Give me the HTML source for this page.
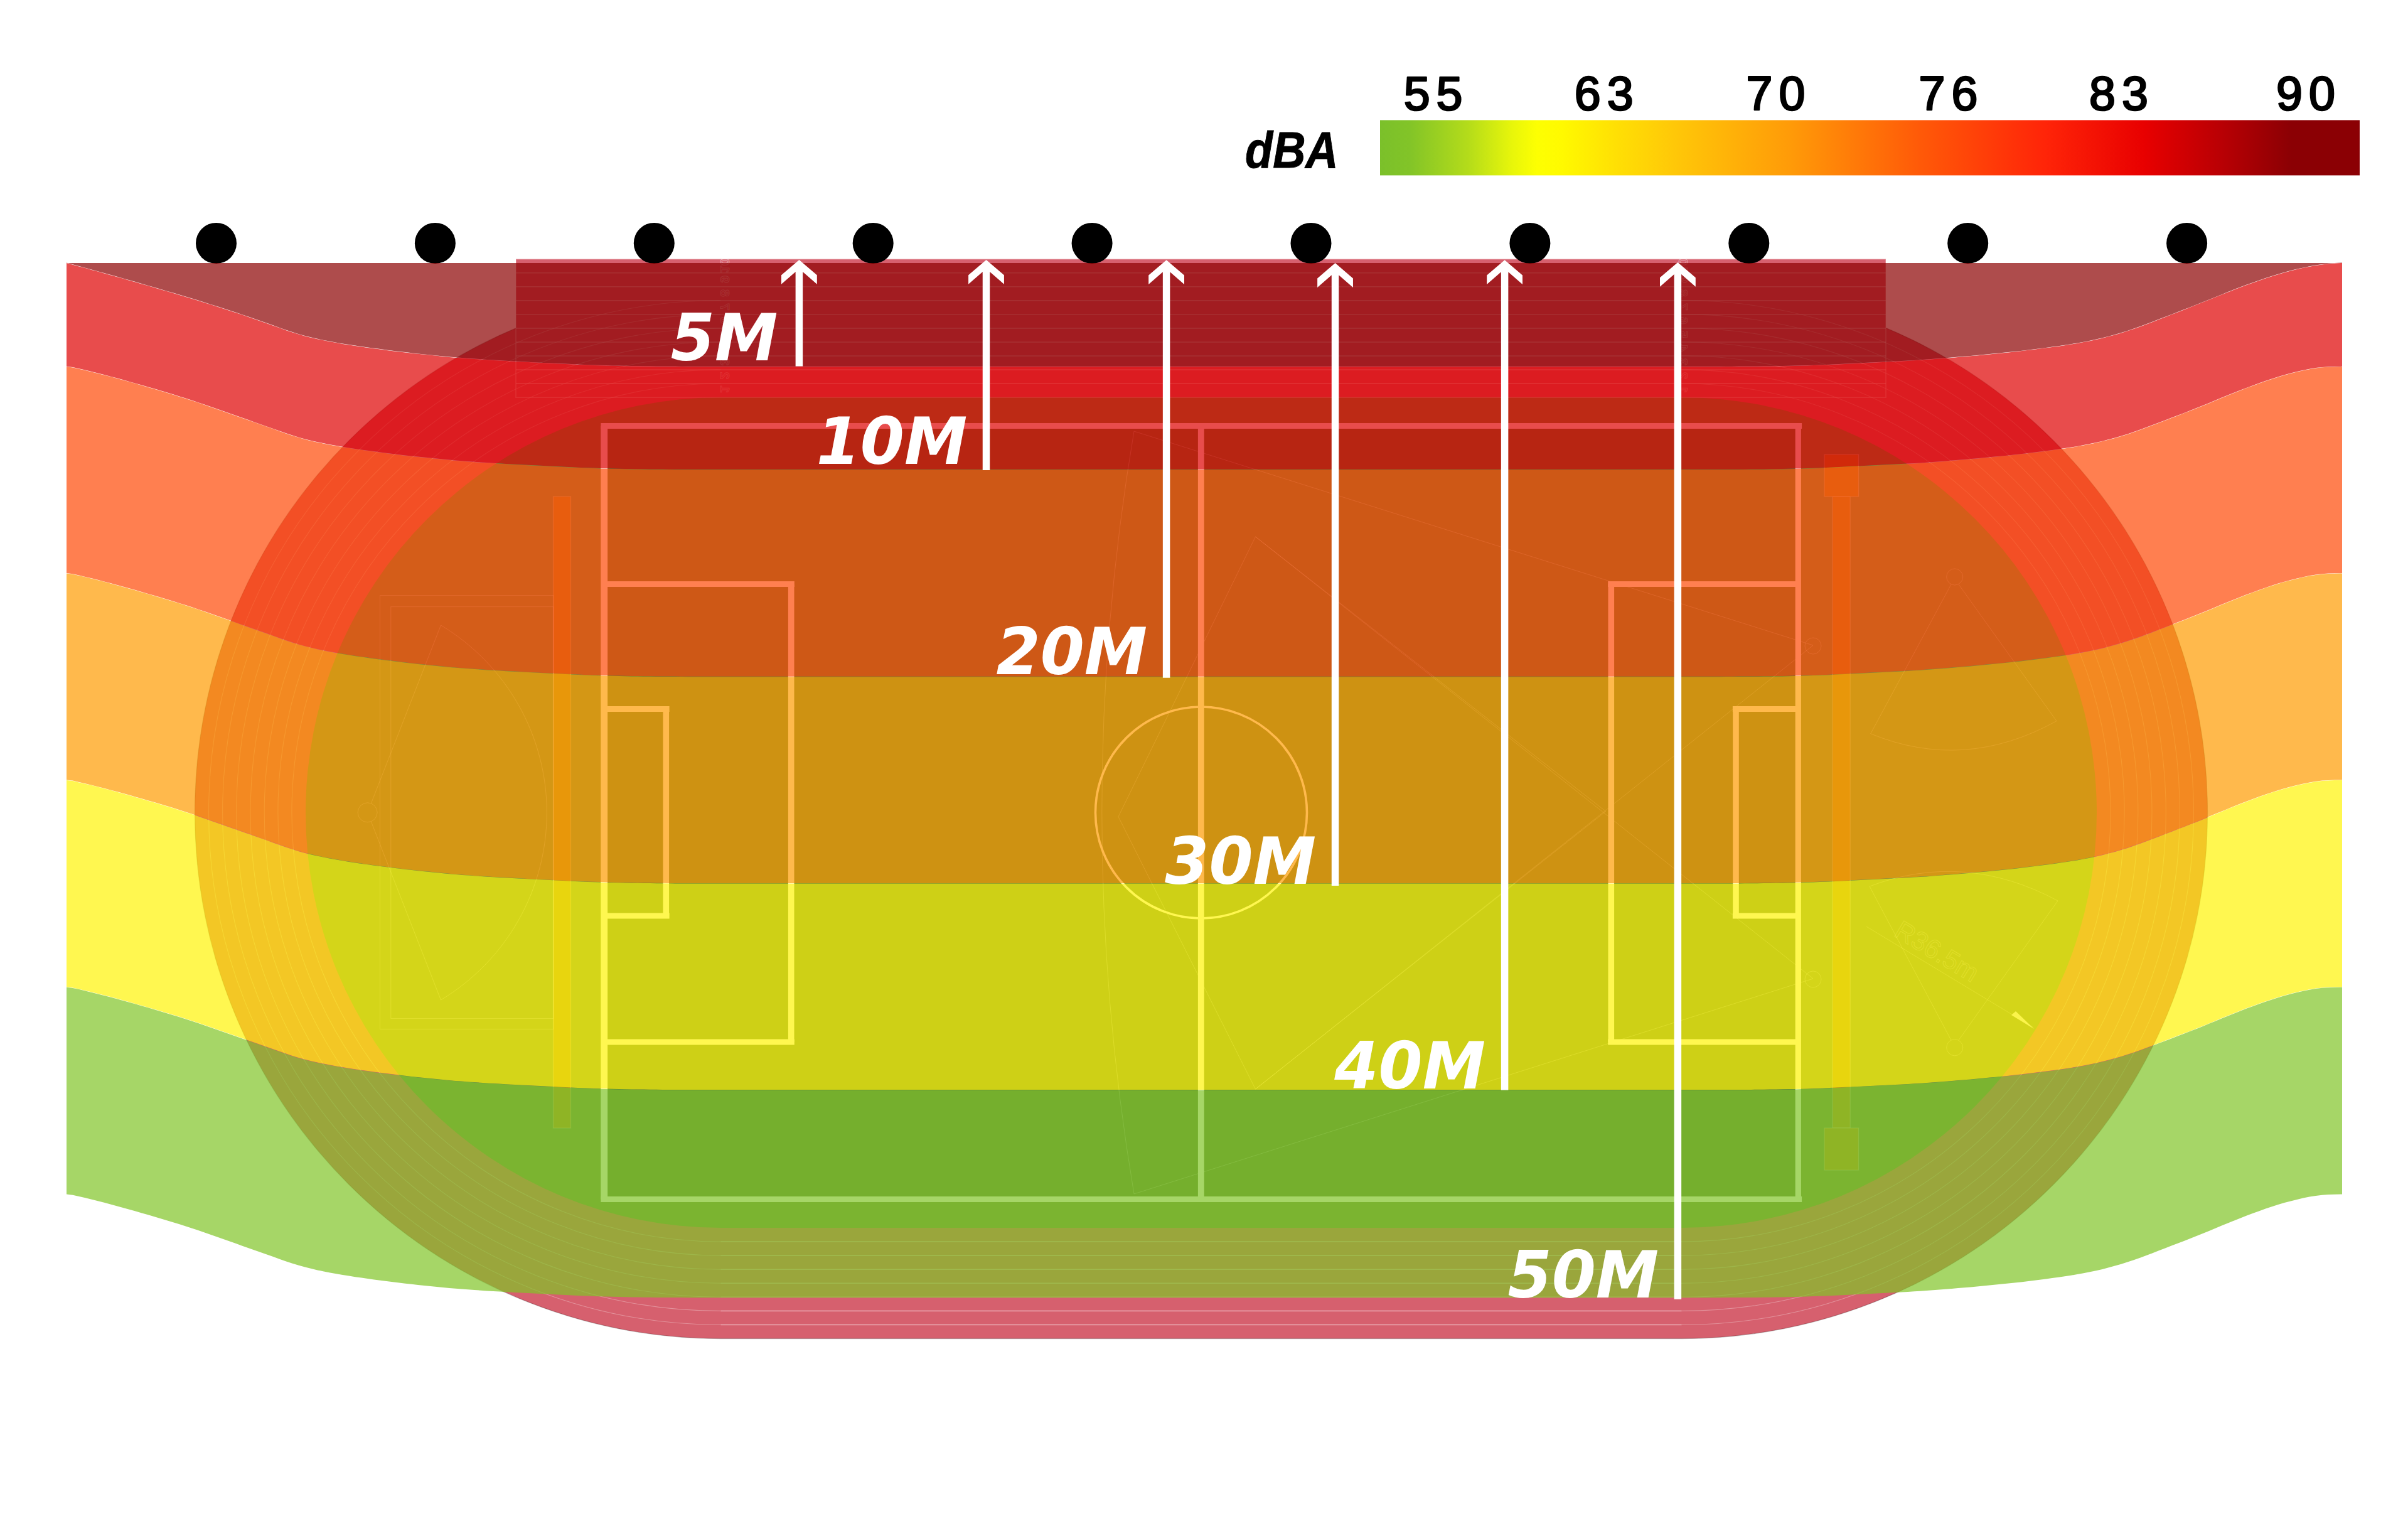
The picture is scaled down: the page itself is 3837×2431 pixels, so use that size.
<!DOCTYPE html>
<html><head><meta charset="utf-8"><title>dBA</title>
<style>html,body{margin:0;padding:0;background:#fff}svg{display:block}</style></head>
<body>
<svg width="3837" height="2431" viewBox="0 0 3837 2431">
<rect width="3837" height="2431" fill="#fff"/>
<g id="base">
<path d="M1148.5,456.5 L2679.5,456.5 A838.0,838.0 0 0 1 2679.5,2132.5 L1148.5,2132.5 A838.0,838.0 0 0 1 1148.5,456.5Z" fill="#d6606e"/>
<path d="M1148.5,456.5 L2679.5,456.5 A838.0,838.0 0 0 1 2679.5,2132.5 L1148.5,2132.5 A838.0,838.0 0 0 1 1148.5,456.5Z" fill="none" stroke="#000" stroke-opacity=".22" stroke-width="1.3"/>
<rect x="822" y="412.6" width="2183" height="220.6" fill="#d6606e"/>
<path d="M1148.5,633.0 L2679.5,633.0 A661.5,661.5 0 0 1 2679.5,1956.0 L1148.5,1956.0 A661.5,661.5 0 0 1 1148.5,633.0Z" fill="#708e48"/>
<g fill="none" stroke="#fff" stroke-opacity=".3" stroke-width="1.1">
<path d="M2679.5,610.94 A683.56,683.56 0 0 1 2679.5,1978.06 M1148.5,1978.06 A683.56,683.56 0 0 1 1148.5,610.94"/>
<path d="M2679.5,588.88 A705.62,705.62 0 0 1 2679.5,2000.12 M1148.5,2000.12 A705.62,705.62 0 0 1 1148.5,588.88"/>
<path d="M2679.5,566.81 A727.69,727.69 0 0 1 2679.5,2022.19 M1148.5,2022.19 A727.69,727.69 0 0 1 1148.5,566.81"/>
<path d="M2679.5,544.75 A749.75,749.75 0 0 1 2679.5,2044.25 M1148.5,2044.25 A749.75,749.75 0 0 1 1148.5,544.75"/>
<path d="M2679.5,522.69 A771.81,771.81 0 0 1 2679.5,2066.31 M1148.5,2066.31 A771.81,771.81 0 0 1 1148.5,522.69"/>
<path d="M2679.5,500.62 A793.88,793.88 0 0 1 2679.5,2088.38 M1148.5,2088.38 A793.88,793.88 0 0 1 1148.5,500.62"/>
<path d="M2679.5,478.56 A815.94,815.94 0 0 1 2679.5,2110.44 M1148.5,2110.44 A815.94,815.94 0 0 1 1148.5,478.56"/>
</g>
<g fill="none" stroke="#fff" stroke-opacity=".4" stroke-width="1.6">
<path d="M1148.5,1978.1H2679.5"/>
<path d="M1148.5,2000.1H2679.5"/>
<path d="M1148.5,2022.2H2679.5"/>
<path d="M1148.5,2044.2H2679.5"/>
<path d="M1148.5,2066.3H2679.5"/>
<path d="M1148.5,2088.4H2679.5"/>
<path d="M1148.5,2110.4H2679.5"/>
<path d="M822,434.7H3005"/>
<path d="M822,456.7H3005"/>
<path d="M822,478.8H3005"/>
<path d="M822,500.8H3005"/>
<path d="M822,522.9H3005"/>
<path d="M822,545.0H3005"/>
<path d="M822,567.0H3005"/>
<path d="M822,589.1H3005"/>
<path d="M822,611.1H3005"/>
<rect x="822" y="412.6" width="2183" height="220.6" stroke-opacity=".35"/>
</g>
<g font-family="'Liberation Sans',sans-serif" font-weight="bold" font-size="21" fill="none" stroke="#fff" stroke-opacity=".42" stroke-width="1" text-anchor="middle">
<text transform="matrix(0 -1 -1 0 1147.5 620.2)">1</text>
<text transform="matrix(0 -1 -1 0 1147.5 598.3)">2</text>
<text transform="matrix(0 -1 -1 0 1147.5 576.4)">3</text>
<text transform="matrix(0 -1 -1 0 1147.5 554.5)">4</text>
<text transform="matrix(0 -1 -1 0 1147.5 532.6)">5</text>
<text transform="matrix(0 -1 -1 0 1147.5 510.7)">6</text>
<text transform="matrix(0 -1 -1 0 1147.5 488.8)">7</text>
<text transform="matrix(0 -1 -1 0 1147.5 466.9)">8</text>
<text transform="matrix(0 -1 -1 0 1147.5 445.0)">9</text>
<text transform="matrix(0 -1 -1 0 1147.5 423.1)">10</text>
<text transform="matrix(0 -1 -1 0 2674.5 620.2)">1</text>
<text transform="matrix(0 -1 -1 0 2674.5 598.3)">2</text>
<text transform="matrix(0 -1 -1 0 2674.5 576.4)">3</text>
<text transform="matrix(0 -1 -1 0 2674.5 554.5)">4</text>
<text transform="matrix(0 -1 -1 0 2674.5 532.6)">5</text>
<text transform="matrix(0 -1 -1 0 2674.5 510.7)">6</text>
<text transform="matrix(0 -1 -1 0 2674.5 488.8)">7</text>
<text transform="matrix(0 -1 -1 0 2674.5 466.9)">8</text>
<text transform="matrix(0 -1 -1 0 2674.5 445.0)">9</text>
<text transform="matrix(0 -1 -1 0 2674.5 423.1)">10</text>
</g>
<rect x="962.5" y="678.5" width="1903.5" height="1232" fill="#5a7d3e"/>
<g fill="none" stroke="#fff" stroke-width="9">
<path d="M957.4,678.5H2871.1M957.4,1910.5H2871.1M962.5,930.5H1265.8M962.5,1660H1265.8M962.5,1129.5H1066.6M962.5,1459H1066.6M2866,930.5H2562.2M2866,1660H2562.2M2866,1129.5H2760.9M2866,1459H2760.9"/>
</g>
<g fill="none" stroke="#fff">
<path stroke-width="10.9" d="M962.7,678.5V1910.5"/>
<path stroke-width="9.2" d="M2865.3,678.5V1910.5"/>
<path stroke-width="9.8" d="M1913.8,678.5V1910.5"/>
<path stroke-width="9.6" d="M1260.7,930.5V1660M1061.3,1129.5V1459M2567.3,930.5V1660M2766,1129.5V1459"/>
</g>
<circle cx="1914" cy="1294.5" r="168.5" fill="none" stroke="#fff" stroke-width="3.6"/>
<g fill="#b38c22" fill-opacity="1" stroke="#fff" stroke-opacity=".3" stroke-width="1.2">
<rect x="881.5" y="791" width="28" height="1006"/>
<rect x="2920.2" y="791" width="28" height="1006"/>
<rect x="2907" y="724" width="54.5" height="67"/>
<rect x="2907" y="1797" width="54.5" height="67"/>
</g>
<g fill="none" stroke="#fff" stroke-opacity=".3" stroke-width="1">
<rect x="605.5" y="948.6" width="276.5" height="690.8"/>
<rect x="622.8" y="966.6" width="259" height="655.8"/>
<circle cx="585.6" cy="1294.3" r="15.5"/>
<path d="M591.3,1279.9L702.5,996A348.3,348.3 0 0 1 702.5,1593L591.3,1308.7"/>
<circle cx="3114.7" cy="919" r="13"/><path d="M3109,931L2980.7,1168.8Q3130,1230 3277,1148.6L3121,931"/>
<circle cx="3114.7" cy="1668.8" r="13"/><path d="M3109,1657L2979,1412Q3130,1355 3279,1435L3121,1657"/>
<path d="M2974,1476L3240,1636.7"/>
<circle cx="2889" cy="1029" r="13"/><circle cx="2889" cy="1560" r="13"/>
<path d="M1807,687Q1704.6,1293 1807,1902M1807,687L2889,1028M1807,1902L2889,1559"/>
<path d="M1782,1301L2000.5,855L2558.7,1292.6L2000.5,1735ZM2889,1028L2000.5,1735M2889,1559L2000.5,855"/>
</g>
<text x="3016" y="1490" transform="rotate(31 3016 1490)" font-family="'Liberation Sans',sans-serif" font-size="42" fill="none" stroke="#fff" stroke-opacity=".3" stroke-width="1">R36.5m</text>
<path d="M3205,1617L3241,1639L3212,1611Z" fill="#fff" fill-opacity=".9"/>
</g>
<circle cx="344.5" cy="387.4" r="32.5" fill="#000"/>
<circle cx="693.4" cy="387.4" r="32.5" fill="#000"/>
<circle cx="1042.3" cy="387.4" r="32.5" fill="#000"/>
<circle cx="1391.2" cy="387.4" r="32.5" fill="#000"/>
<circle cx="1740.1" cy="387.4" r="32.5" fill="#000"/>
<circle cx="2089.0" cy="387.4" r="32.5" fill="#000"/>
<circle cx="2437.9" cy="387.4" r="32.5" fill="#000"/>
<circle cx="2786.8" cy="387.4" r="32.5" fill="#000"/>
<circle cx="3135.7" cy="387.4" r="32.5" fill="#000"/>
<circle cx="3484.6" cy="387.4" r="32.5" fill="#000"/>
<g id="bands" fill-opacity="0.7">
<path d="M106.0,419.0 L116.0,419.0 L126.0,419.0 L136.0,419.0 L146.0,419.0 L156.0,419.0 L166.0,419.0 L176.0,419.0 L186.0,419.0 L196.0,419.0 L206.0,419.0 L216.0,419.0 L226.0,419.0 L236.0,419.0 L246.0,419.0 L256.0,419.0 L266.0,419.0 L276.0,419.0 L286.0,419.0 L296.0,419.0 L306.0,419.0 L316.0,419.0 L326.0,419.0 L336.0,419.0 L346.0,419.0 L356.0,419.0 L366.0,419.0 L376.0,419.0 L386.0,419.0 L396.0,419.0 L406.0,419.0 L416.0,419.0 L426.0,419.0 L436.0,419.0 L446.0,419.0 L456.0,419.0 L466.0,419.0 L476.0,419.0 L486.0,419.0 L496.0,419.0 L506.0,419.0 L516.0,419.0 L526.0,419.0 L536.0,419.0 L546.0,419.0 L556.0,419.0 L566.0,419.0 L576.0,419.0 L586.0,419.0 L596.0,419.0 L606.0,419.0 L616.0,419.0 L626.0,419.0 L636.0,419.0 L646.0,419.0 L656.0,419.0 L666.0,419.0 L676.0,419.0 L686.0,419.0 L696.0,419.0 L706.0,419.0 L716.0,419.0 L726.0,419.0 L736.0,419.0 L746.0,419.0 L756.0,419.0 L766.0,419.0 L776.0,419.0 L786.0,419.0 L796.0,419.0 L806.0,419.0 L816.0,419.0 L826.0,419.0 L836.0,419.0 L846.0,419.0 L856.0,419.0 L866.0,419.0 L876.0,419.0 L886.0,419.0 L896.0,419.0 L906.0,419.0 L916.0,419.0 L926.0,419.0 L936.0,419.0 L946.0,419.0 L956.0,419.0 L966.0,419.0 L976.0,419.0 L986.0,419.0 L996.0,419.0 L1006.0,419.0 L1016.0,419.0 L1026.0,419.0 L1036.0,419.0 L1046.0,419.0 L1056.0,419.0 L1066.0,419.0 L1076.0,419.0 L1086.0,419.0 L1096.0,419.0 L1106.0,419.0 L1116.0,419.0 L1126.0,419.0 L1136.0,419.0 L1146.0,419.0 L1156.0,419.0 L1166.0,419.0 L1176.0,419.0 L1186.0,419.0 L1196.0,419.0 L1206.0,419.0 L1216.0,419.0 L1226.0,419.0 L1236.0,419.0 L1246.0,419.0 L1256.0,419.0 L1266.0,419.0 L1276.0,419.0 L1286.0,419.0 L1296.0,419.0 L1306.0,419.0 L1316.0,419.0 L1326.0,419.0 L1336.0,419.0 L1346.0,419.0 L1356.0,419.0 L1366.0,419.0 L1376.0,419.0 L1386.0,419.0 L1396.0,419.0 L1406.0,419.0 L1416.0,419.0 L1426.0,419.0 L1436.0,419.0 L1446.0,419.0 L1456.0,419.0 L1466.0,419.0 L1476.0,419.0 L1486.0,419.0 L1496.0,419.0 L1500.0,419.0 L2600.0,419.0 L2610.0,419.0 L2620.0,419.0 L2630.0,419.0 L2640.0,419.0 L2650.0,419.0 L2660.0,419.0 L2670.0,419.0 L2680.0,419.0 L2690.0,419.0 L2700.0,419.0 L2710.0,419.0 L2720.0,419.0 L2730.0,419.0 L2740.0,419.0 L2750.0,419.0 L2760.0,419.0 L2770.0,419.0 L2780.0,419.0 L2790.0,419.0 L2800.0,419.0 L2810.0,419.0 L2820.0,419.0 L2830.0,419.0 L2840.0,419.0 L2850.0,419.0 L2860.0,419.0 L2870.0,419.0 L2880.0,419.0 L2890.0,419.0 L2900.0,419.0 L2910.0,419.0 L2920.0,419.0 L2930.0,419.0 L2940.0,419.0 L2950.0,419.0 L2960.0,419.0 L2970.0,419.0 L2980.0,419.0 L2990.0,419.0 L3000.0,419.0 L3010.0,419.0 L3020.0,419.0 L3030.0,419.0 L3040.0,419.0 L3050.0,419.0 L3060.0,419.0 L3070.0,419.0 L3080.0,419.0 L3090.0,419.0 L3100.0,419.0 L3110.0,419.0 L3120.0,419.0 L3130.0,419.0 L3140.0,419.0 L3150.0,419.0 L3160.0,419.0 L3170.0,419.0 L3180.0,419.0 L3190.0,419.0 L3200.0,419.0 L3210.0,419.0 L3220.0,419.0 L3230.0,419.0 L3240.0,419.0 L3250.0,419.0 L3260.0,419.0 L3270.0,419.0 L3280.0,419.0 L3290.0,419.0 L3300.0,419.0 L3310.0,419.0 L3320.0,419.0 L3330.0,419.0 L3340.0,419.0 L3350.0,419.0 L3360.0,419.0 L3370.0,419.0 L3380.0,419.0 L3390.0,419.0 L3400.0,419.0 L3410.0,419.0 L3420.0,419.0 L3430.0,419.0 L3440.0,419.0 L3450.0,419.0 L3460.0,419.0 L3470.0,419.0 L3480.0,419.0 L3490.0,419.0 L3500.0,419.0 L3510.0,419.0 L3520.0,419.0 L3530.0,419.0 L3540.0,419.0 L3550.0,419.0 L3560.0,419.0 L3570.0,419.0 L3580.0,419.0 L3590.0,419.0 L3600.0,419.0 L3610.0,419.0 L3620.0,419.0 L3630.0,419.0 L3640.0,419.0 L3650.0,419.0 L3660.0,419.0 L3670.0,419.0 L3680.0,419.0 L3690.0,419.0 L3700.0,419.0 L3710.0,419.0 L3720.0,419.0 L3730.0,419.0 L3732.0,419.0 L3732.0,418.6 L3730.0,418.6 L3720.0,418.9 L3710.0,419.8 L3700.0,421.0 L3690.0,422.5 L3680.0,424.3 L3670.0,426.4 L3660.0,428.6 L3650.0,431.1 L3640.0,433.8 L3630.0,436.7 L3620.0,439.8 L3610.0,443.1 L3600.0,446.4 L3590.0,449.9 L3580.0,453.5 L3570.0,457.2 L3560.0,461.1 L3550.0,465.1 L3540.0,469.2 L3530.0,473.2 L3520.0,477.2 L3510.0,481.2 L3500.0,485.2 L3490.0,489.2 L3480.0,493.1 L3470.0,497.0 L3460.0,500.9 L3450.0,504.8 L3440.0,508.6 L3430.0,512.4 L3420.0,516.3 L3410.0,520.0 L3400.0,523.6 L3390.0,526.9 L3380.0,530.0 L3370.0,532.9 L3360.0,535.7 L3350.0,538.2 L3340.0,540.6 L3330.0,542.7 L3320.0,544.7 L3310.0,546.5 L3300.0,548.2 L3290.0,549.8 L3280.0,551.2 L3270.0,552.6 L3260.0,553.9 L3250.0,555.2 L3240.0,556.5 L3230.0,557.7 L3220.0,558.9 L3210.0,560.0 L3200.0,561.1 L3190.0,562.1 L3180.0,563.1 L3170.0,564.1 L3160.0,565.0 L3150.0,566.0 L3140.0,566.9 L3130.0,567.7 L3120.0,568.6 L3110.0,569.4 L3100.0,570.2 L3090.0,571.0 L3080.0,571.8 L3070.0,572.6 L3060.0,573.2 L3050.0,573.9 L3040.0,574.4 L3030.0,574.9 L3020.0,575.4 L3010.0,575.9 L3000.0,576.4 L2990.0,576.9 L2980.0,577.4 L2970.0,577.9 L2960.0,578.4 L2950.0,578.9 L2940.0,579.4 L2930.0,579.9 L2920.0,580.4 L2910.0,580.9 L2900.0,581.3 L2890.0,581.7 L2880.0,582.0 L2870.0,582.3 L2860.0,582.5 L2850.0,582.7 L2840.0,582.9 L2830.0,583.1 L2820.0,583.2 L2810.0,583.3 L2800.0,583.4 L2790.0,583.5 L2780.0,583.6 L2770.0,583.6 L2760.0,583.7 L2750.0,583.7 L2740.0,583.7 L2730.0,583.7 L2720.0,583.7 L2710.0,583.7 L2700.0,583.7 L2690.0,583.7 L2680.0,583.7 L2670.0,583.8 L2660.0,583.8 L2650.0,583.8 L2640.0,583.8 L2630.0,583.8 L2620.0,583.8 L2610.0,583.8 L2600.0,583.8 L1500.0,583.8 L1496.0,583.8 L1486.0,583.8 L1476.0,583.8 L1466.0,583.8 L1456.0,583.8 L1446.0,583.8 L1436.0,583.8 L1426.0,583.8 L1416.0,583.8 L1406.0,583.8 L1396.0,583.8 L1386.0,583.8 L1376.0,583.8 L1366.0,583.8 L1356.0,583.8 L1346.0,583.8 L1336.0,583.8 L1326.0,583.8 L1316.0,583.8 L1306.0,583.8 L1296.0,583.8 L1286.0,583.8 L1276.0,583.8 L1266.0,583.8 L1256.0,583.8 L1246.0,583.8 L1236.0,583.8 L1226.0,583.8 L1216.0,583.8 L1206.0,583.8 L1196.0,583.8 L1186.0,583.8 L1176.0,583.8 L1166.0,583.8 L1156.0,583.7 L1146.0,583.7 L1136.0,583.7 L1126.0,583.7 L1116.0,583.7 L1106.0,583.7 L1096.0,583.7 L1086.0,583.7 L1076.0,583.6 L1066.0,583.6 L1056.0,583.5 L1046.0,583.4 L1036.0,583.3 L1026.0,583.2 L1016.0,583.1 L1006.0,582.9 L996.0,582.8 L986.0,582.6 L976.0,582.4 L966.0,582.1 L956.0,581.8 L946.0,581.5 L936.0,581.2 L926.0,580.7 L916.0,580.3 L906.0,579.8 L896.0,579.3 L886.0,578.8 L876.0,578.3 L866.0,577.9 L856.0,577.4 L846.0,576.9 L836.0,576.3 L826.0,575.8 L816.0,575.3 L806.0,574.7 L796.0,574.1 L786.0,573.5 L776.0,572.9 L766.0,572.2 L756.0,571.5 L746.0,570.8 L736.0,570.1 L726.0,569.3 L716.0,568.4 L706.0,567.4 L696.0,566.4 L686.0,565.4 L676.0,564.4 L666.0,563.4 L656.0,562.3 L646.0,561.1 L636.0,560.0 L626.0,558.7 L616.0,557.4 L606.0,556.1 L596.0,554.8 L586.0,553.4 L576.0,552.0 L566.0,550.6 L556.0,549.0 L546.0,547.4 L536.0,545.7 L526.0,543.8 L516.0,541.9 L506.0,539.8 L496.0,537.5 L486.0,535.0 L476.0,532.2 L466.0,529.1 L456.0,525.8 L446.0,522.2 L436.0,518.6 L426.0,515.1 L416.0,511.6 L406.0,508.1 L396.0,504.6 L386.0,501.2 L376.0,497.8 L366.0,494.5 L356.0,491.3 L346.0,488.0 L336.0,484.9 L326.0,481.7 L316.0,478.6 L306.0,475.6 L296.0,472.6 L286.0,469.6 L276.0,466.6 L266.0,463.7 L256.0,460.7 L246.0,457.8 L236.0,454.9 L226.0,452.0 L216.0,449.1 L206.0,446.2 L196.0,443.4 L186.0,440.6 L176.0,437.8 L166.0,435.0 L156.0,432.2 L146.0,429.4 L136.0,426.7 L126.0,424.0 L116.0,421.2 L106.0,418.6Z" fill="#8b0000"/>
<path d="M106.0,419.0 L116.0,421.7 L126.0,424.4 L136.0,427.1 L146.0,429.9 L156.0,432.6 L166.0,435.4 L176.0,438.2 L186.0,441.0 L196.0,443.8 L206.0,446.7 L216.0,449.5 L226.0,452.4 L236.0,455.3 L246.0,458.2 L256.0,461.2 L266.0,464.1 L276.0,467.1 L286.0,470.1 L296.0,473.0 L306.0,476.0 L316.0,479.1 L326.0,482.2 L336.0,485.3 L346.0,488.5 L356.0,491.7 L366.0,495.0 L376.0,498.3 L386.0,501.6 L396.0,505.0 L406.0,508.5 L416.0,512.0 L426.0,515.6 L436.0,519.1 L446.0,522.6 L456.0,526.2 L466.0,529.6 L476.0,532.6 L486.0,535.4 L496.0,538.0 L506.0,540.2 L516.0,542.3 L526.0,544.3 L536.0,546.1 L546.0,547.9 L556.0,549.5 L566.0,551.0 L576.0,552.5 L586.0,553.9 L596.0,555.3 L606.0,556.6 L616.0,557.9 L626.0,559.2 L636.0,560.4 L646.0,561.6 L656.0,562.7 L666.0,563.8 L676.0,564.8 L686.0,565.8 L696.0,566.8 L706.0,567.9 L716.0,568.9 L726.0,569.8 L736.0,570.6 L746.0,571.3 L756.0,572.0 L766.0,572.7 L776.0,573.3 L786.0,574.0 L796.0,574.6 L806.0,575.1 L816.0,575.7 L826.0,576.2 L836.0,576.8 L846.0,577.3 L856.0,577.8 L866.0,578.3 L876.0,578.8 L886.0,579.3 L896.0,579.8 L906.0,580.2 L916.0,580.7 L926.0,581.2 L936.0,581.6 L946.0,582.0 L956.0,582.3 L966.0,582.6 L976.0,582.8 L986.0,583.0 L996.0,583.2 L1006.0,583.4 L1016.0,583.5 L1026.0,583.7 L1036.0,583.8 L1046.0,583.9 L1056.0,584.0 L1066.0,584.0 L1076.0,584.1 L1086.0,584.1 L1096.0,584.2 L1106.0,584.2 L1116.0,584.2 L1126.0,584.2 L1136.0,584.2 L1146.0,584.2 L1156.0,584.2 L1166.0,584.2 L1176.0,584.2 L1186.0,584.2 L1196.0,584.2 L1206.0,584.2 L1216.0,584.2 L1226.0,584.2 L1236.0,584.2 L1246.0,584.2 L1256.0,584.2 L1266.0,584.2 L1276.0,584.2 L1286.0,584.2 L1296.0,584.2 L1306.0,584.2 L1316.0,584.2 L1326.0,584.2 L1336.0,584.2 L1346.0,584.2 L1356.0,584.2 L1366.0,584.2 L1376.0,584.2 L1386.0,584.2 L1396.0,584.2 L1406.0,584.2 L1416.0,584.2 L1426.0,584.2 L1436.0,584.2 L1446.0,584.2 L1456.0,584.2 L1466.0,584.2 L1476.0,584.2 L1486.0,584.2 L1496.0,584.2 L1500.0,584.2 L2600.0,584.2 L2610.0,584.2 L2620.0,584.2 L2630.0,584.2 L2640.0,584.2 L2650.0,584.2 L2660.0,584.2 L2670.0,584.2 L2680.0,584.2 L2690.0,584.2 L2700.0,584.2 L2710.0,584.2 L2720.0,584.2 L2730.0,584.2 L2740.0,584.2 L2750.0,584.1 L2760.0,584.1 L2770.0,584.1 L2780.0,584.0 L2790.0,584.0 L2800.0,583.9 L2810.0,583.8 L2820.0,583.7 L2830.0,583.5 L2840.0,583.4 L2850.0,583.2 L2860.0,583.0 L2870.0,582.7 L2880.0,582.5 L2890.0,582.1 L2900.0,581.8 L2910.0,581.3 L2920.0,580.9 L2930.0,580.4 L2940.0,579.9 L2950.0,579.4 L2960.0,578.9 L2970.0,578.4 L2980.0,577.9 L2990.0,577.4 L3000.0,576.9 L3010.0,576.4 L3020.0,575.9 L3030.0,575.4 L3040.0,574.9 L3050.0,574.3 L3060.0,573.7 L3070.0,573.0 L3080.0,572.3 L3090.0,571.5 L3100.0,570.7 L3110.0,569.9 L3120.0,569.0 L3130.0,568.2 L3140.0,567.3 L3150.0,566.4 L3160.0,565.5 L3170.0,564.5 L3180.0,563.5 L3190.0,562.6 L3200.0,561.5 L3210.0,560.5 L3220.0,559.3 L3230.0,558.1 L3240.0,556.9 L3250.0,555.6 L3260.0,554.3 L3270.0,553.0 L3280.0,551.7 L3290.0,550.2 L3300.0,548.6 L3310.0,547.0 L3320.0,545.1 L3330.0,543.2 L3340.0,541.0 L3350.0,538.7 L3360.0,536.1 L3370.0,533.4 L3380.0,530.5 L3390.0,527.3 L3400.0,524.0 L3410.0,520.5 L3420.0,516.7 L3430.0,512.9 L3440.0,509.1 L3450.0,505.2 L3460.0,501.3 L3470.0,497.5 L3480.0,493.5 L3490.0,489.6 L3500.0,485.6 L3510.0,481.6 L3520.0,477.6 L3530.0,473.6 L3540.0,469.6 L3550.0,465.6 L3560.0,461.6 L3570.0,457.7 L3580.0,454.0 L3590.0,450.4 L3600.0,446.9 L3610.0,443.5 L3620.0,440.3 L3630.0,437.2 L3640.0,434.2 L3650.0,431.5 L3660.0,429.1 L3670.0,426.8 L3680.0,424.8 L3690.0,422.9 L3700.0,421.4 L3710.0,420.3 L3720.0,419.4 L3730.0,419.0 L3732.0,419.0 L3732.0,583.8 L3730.0,583.9 L3720.0,583.9 L3710.0,584.2 L3700.0,584.9 L3690.0,586.1 L3680.0,587.8 L3670.0,589.8 L3660.0,592.1 L3650.0,594.6 L3640.0,597.3 L3630.0,600.3 L3620.0,603.4 L3610.0,606.8 L3600.0,610.3 L3590.0,613.9 L3580.0,617.7 L3570.0,621.5 L3560.0,625.5 L3550.0,629.5 L3540.0,633.6 L3530.0,637.8 L3520.0,641.9 L3510.0,646.0 L3500.0,650.0 L3490.0,654.0 L3480.0,657.9 L3470.0,661.7 L3460.0,665.6 L3450.0,669.4 L3440.0,673.3 L3430.0,677.1 L3420.0,680.8 L3410.0,684.6 L3400.0,688.1 L3390.0,691.4 L3380.0,694.5 L3370.0,697.4 L3360.0,700.1 L3350.0,702.7 L3340.0,705.0 L3330.0,707.1 L3320.0,709.1 L3310.0,710.9 L3300.0,712.5 L3290.0,714.1 L3280.0,715.5 L3270.0,716.9 L3260.0,718.2 L3250.0,719.5 L3240.0,720.8 L3230.0,722.0 L3220.0,723.2 L3210.0,724.3 L3200.0,725.4 L3190.0,726.4 L3180.0,727.3 L3170.0,728.3 L3160.0,729.3 L3150.0,730.2 L3140.0,731.1 L3130.0,732.0 L3120.0,732.8 L3110.0,733.6 L3100.0,734.4 L3090.0,735.2 L3080.0,736.0 L3070.0,736.7 L3060.0,737.4 L3050.0,738.0 L3040.0,738.6 L3030.0,739.1 L3020.0,739.6 L3010.0,740.1 L3000.0,740.6 L2990.0,741.1 L2980.0,741.6 L2970.0,742.1 L2960.0,742.6 L2950.0,743.1 L2940.0,743.5 L2930.0,744.0 L2920.0,744.5 L2910.0,745.0 L2900.0,745.4 L2890.0,745.8 L2880.0,746.1 L2870.0,746.4 L2860.0,746.6 L2850.0,746.8 L2840.0,747.0 L2830.0,747.2 L2820.0,747.3 L2810.0,747.4 L2800.0,747.5 L2790.0,747.6 L2780.0,747.7 L2770.0,747.7 L2760.0,747.8 L2750.0,747.8 L2740.0,747.8 L2730.0,747.8 L2720.0,747.8 L2710.0,747.8 L2700.0,747.8 L2690.0,747.8 L2680.0,747.8 L2670.0,747.8 L2660.0,747.8 L2650.0,747.8 L2640.0,747.8 L2630.0,747.8 L2620.0,747.8 L2610.0,747.8 L2600.0,747.8 L1500.0,747.8 L1496.0,747.8 L1486.0,747.8 L1476.0,747.8 L1466.0,747.8 L1456.0,747.8 L1446.0,747.8 L1436.0,747.8 L1426.0,747.8 L1416.0,747.8 L1406.0,747.8 L1396.0,747.8 L1386.0,747.8 L1376.0,747.8 L1366.0,747.8 L1356.0,747.8 L1346.0,747.8 L1336.0,747.8 L1326.0,747.8 L1316.0,747.8 L1306.0,747.8 L1296.0,747.8 L1286.0,747.8 L1276.0,747.8 L1266.0,747.8 L1256.0,747.8 L1246.0,747.8 L1236.0,747.8 L1226.0,747.8 L1216.0,747.8 L1206.0,747.8 L1196.0,747.8 L1186.0,747.8 L1176.0,747.8 L1166.0,747.8 L1156.0,747.8 L1146.0,747.8 L1136.0,747.8 L1126.0,747.8 L1116.0,747.8 L1106.0,747.8 L1096.0,747.8 L1086.0,747.8 L1076.0,747.7 L1066.0,747.7 L1056.0,747.6 L1046.0,747.5 L1036.0,747.4 L1026.0,747.3 L1016.0,747.2 L1006.0,747.1 L996.0,746.9 L986.0,746.7 L976.0,746.5 L966.0,746.2 L956.0,746.0 L946.0,745.6 L936.0,745.3 L926.0,744.9 L916.0,744.4 L906.0,743.9 L896.0,743.4 L886.0,743.0 L876.0,742.5 L866.0,742.0 L856.0,741.5 L846.0,741.0 L836.0,740.5 L826.0,740.0 L816.0,739.4 L806.0,738.9 L796.0,738.3 L786.0,737.7 L776.0,737.1 L766.0,736.4 L756.0,735.7 L746.0,735.0 L736.0,734.3 L726.0,733.5 L716.0,732.6 L706.0,731.6 L696.0,730.6 L686.0,729.6 L676.0,728.6 L666.0,727.6 L656.0,726.5 L646.0,725.4 L636.0,724.2 L626.0,723.0 L616.0,721.7 L606.0,720.4 L596.0,719.1 L586.0,717.8 L576.0,716.4 L566.0,714.9 L556.0,713.4 L546.0,711.8 L536.0,710.0 L526.0,708.2 L516.0,706.3 L506.0,704.2 L496.0,702.0 L486.0,699.4 L476.0,696.7 L466.0,693.6 L456.0,690.3 L446.0,686.7 L436.0,683.2 L426.0,679.7 L416.0,676.2 L406.0,672.7 L396.0,669.1 L386.0,665.6 L376.0,662.1 L366.0,658.6 L356.0,655.0 L346.0,651.5 L336.0,648.0 L326.0,644.6 L316.0,641.2 L306.0,637.8 L296.0,634.6 L286.0,631.4 L276.0,628.3 L266.0,625.3 L256.0,622.3 L246.0,619.3 L236.0,616.4 L226.0,613.5 L216.0,610.7 L206.0,607.9 L196.0,605.1 L186.0,602.3 L176.0,599.7 L166.0,597.0 L156.0,594.4 L146.0,592.0 L136.0,589.5 L126.0,587.2 L116.0,584.9 L106.0,583.8Z" fill="#de0000"/>
<path d="M106.0,584.3 L116.0,585.4 L126.0,587.7 L136.0,590.0 L146.0,592.4 L156.0,594.9 L166.0,597.5 L176.0,600.1 L186.0,602.8 L196.0,605.5 L206.0,608.3 L216.0,611.1 L226.0,614.0 L236.0,616.9 L246.0,619.8 L256.0,622.7 L266.0,625.7 L276.0,628.8 L286.0,631.9 L296.0,635.0 L306.0,638.3 L316.0,641.6 L326.0,645.0 L336.0,648.5 L346.0,652.0 L356.0,655.5 L366.0,659.0 L376.0,662.6 L386.0,666.1 L396.0,669.6 L406.0,673.1 L416.0,676.6 L426.0,680.1 L436.0,683.6 L446.0,687.2 L456.0,690.7 L466.0,694.1 L476.0,697.1 L486.0,699.9 L496.0,702.4 L506.0,704.7 L516.0,706.7 L526.0,708.7 L536.0,710.5 L546.0,712.2 L556.0,713.8 L566.0,715.4 L576.0,716.8 L586.0,718.2 L596.0,719.6 L606.0,720.9 L616.0,722.2 L626.0,723.5 L636.0,724.7 L646.0,725.9 L656.0,727.0 L666.0,728.1 L676.0,729.1 L686.0,730.1 L696.0,731.0 L706.0,732.1 L716.0,733.1 L726.0,734.0 L736.0,734.8 L746.0,735.5 L756.0,736.2 L766.0,736.9 L776.0,737.5 L786.0,738.1 L796.0,738.7 L806.0,739.3 L816.0,739.9 L826.0,740.4 L836.0,740.9 L846.0,741.5 L856.0,742.0 L866.0,742.5 L876.0,742.9 L886.0,743.4 L896.0,743.9 L906.0,744.4 L916.0,744.8 L926.0,745.3 L936.0,745.7 L946.0,746.1 L956.0,746.4 L966.0,746.7 L976.0,746.9 L986.0,747.1 L996.0,747.3 L1006.0,747.5 L1016.0,747.6 L1026.0,747.8 L1036.0,747.9 L1046.0,748.0 L1056.0,748.1 L1066.0,748.1 L1076.0,748.2 L1086.0,748.2 L1096.0,748.3 L1106.0,748.3 L1116.0,748.3 L1126.0,748.3 L1136.0,748.3 L1146.0,748.3 L1156.0,748.3 L1166.0,748.3 L1176.0,748.3 L1186.0,748.3 L1196.0,748.3 L1206.0,748.3 L1216.0,748.3 L1226.0,748.3 L1236.0,748.3 L1246.0,748.3 L1256.0,748.3 L1266.0,748.3 L1276.0,748.3 L1286.0,748.3 L1296.0,748.3 L1306.0,748.3 L1316.0,748.3 L1326.0,748.3 L1336.0,748.3 L1346.0,748.3 L1356.0,748.3 L1366.0,748.3 L1376.0,748.3 L1386.0,748.3 L1396.0,748.3 L1406.0,748.3 L1416.0,748.3 L1426.0,748.3 L1436.0,748.3 L1446.0,748.3 L1456.0,748.3 L1466.0,748.3 L1476.0,748.3 L1486.0,748.3 L1496.0,748.3 L1500.0,748.3 L2600.0,748.3 L2610.0,748.3 L2620.0,748.3 L2630.0,748.3 L2640.0,748.3 L2650.0,748.3 L2660.0,748.3 L2670.0,748.3 L2680.0,748.3 L2690.0,748.3 L2700.0,748.3 L2710.0,748.3 L2720.0,748.3 L2730.0,748.3 L2740.0,748.3 L2750.0,748.2 L2760.0,748.2 L2770.0,748.2 L2780.0,748.1 L2790.0,748.1 L2800.0,748.0 L2810.0,747.9 L2820.0,747.8 L2830.0,747.6 L2840.0,747.5 L2850.0,747.3 L2860.0,747.1 L2870.0,746.8 L2880.0,746.6 L2890.0,746.3 L2900.0,745.9 L2910.0,745.5 L2920.0,745.0 L2930.0,744.5 L2940.0,744.0 L2950.0,743.5 L2960.0,743.0 L2970.0,742.5 L2980.0,742.0 L2990.0,741.5 L3000.0,741.0 L3010.0,740.5 L3020.0,740.0 L3030.0,739.5 L3040.0,739.0 L3050.0,738.5 L3060.0,737.9 L3070.0,737.2 L3080.0,736.4 L3090.0,735.7 L3100.0,734.9 L3110.0,734.1 L3120.0,733.2 L3130.0,732.4 L3140.0,731.5 L3150.0,730.7 L3160.0,729.7 L3170.0,728.8 L3180.0,727.8 L3190.0,726.8 L3200.0,725.8 L3210.0,724.7 L3220.0,723.6 L3230.0,722.4 L3240.0,721.2 L3250.0,719.9 L3260.0,718.7 L3270.0,717.3 L3280.0,716.0 L3290.0,714.6 L3300.0,713.0 L3310.0,711.3 L3320.0,709.5 L3330.0,707.6 L3340.0,705.5 L3350.0,703.1 L3360.0,700.6 L3370.0,697.9 L3380.0,695.0 L3390.0,691.9 L3400.0,688.5 L3410.0,685.0 L3420.0,681.3 L3430.0,677.5 L3440.0,673.7 L3450.0,669.9 L3460.0,666.0 L3470.0,662.2 L3480.0,658.3 L3490.0,654.4 L3500.0,650.5 L3510.0,646.5 L3520.0,642.4 L3530.0,638.2 L3540.0,634.1 L3550.0,630.0 L3560.0,625.9 L3570.0,622.0 L3580.0,618.1 L3590.0,614.4 L3600.0,610.8 L3610.0,607.3 L3620.0,603.9 L3630.0,600.7 L3640.0,597.8 L3650.0,595.0 L3660.0,592.6 L3670.0,590.3 L3680.0,588.3 L3690.0,586.6 L3700.0,585.3 L3710.0,584.7 L3720.0,584.4 L3730.0,584.3 L3732.0,584.3 L3732.0,913.1 L3730.0,913.2 L3720.0,913.2 L3710.0,913.5 L3700.0,914.2 L3690.0,915.4 L3680.0,917.1 L3670.0,919.2 L3660.0,921.4 L3650.0,923.9 L3640.0,926.7 L3630.0,929.6 L3620.0,932.8 L3610.0,936.2 L3600.0,939.7 L3590.0,943.4 L3580.0,947.1 L3570.0,951.0 L3560.0,954.9 L3550.0,959.0 L3540.0,963.1 L3530.0,967.3 L3520.0,971.4 L3510.0,975.5 L3500.0,979.6 L3490.0,983.5 L3480.0,987.4 L3470.0,991.3 L3460.0,995.2 L3450.0,999.1 L3440.0,1002.9 L3430.0,1006.7 L3420.0,1010.5 L3410.0,1014.2 L3400.0,1017.8 L3390.0,1021.1 L3380.0,1024.2 L3370.0,1027.1 L3360.0,1029.9 L3350.0,1032.4 L3340.0,1034.7 L3330.0,1036.9 L3320.0,1038.8 L3310.0,1040.6 L3300.0,1042.3 L3290.0,1043.9 L3280.0,1045.3 L3270.0,1046.7 L3260.0,1048.0 L3250.0,1049.3 L3240.0,1050.6 L3230.0,1051.8 L3220.0,1053.0 L3210.0,1054.1 L3200.0,1055.2 L3190.0,1056.2 L3180.0,1057.2 L3170.0,1058.1 L3160.0,1059.1 L3150.0,1060.0 L3140.0,1060.9 L3130.0,1061.8 L3120.0,1062.6 L3110.0,1063.5 L3100.0,1064.3 L3090.0,1065.1 L3080.0,1065.8 L3070.0,1066.6 L3060.0,1067.3 L3050.0,1067.9 L3040.0,1068.4 L3030.0,1069.0 L3020.0,1069.5 L3010.0,1070.0 L3000.0,1070.5 L2990.0,1071.0 L2980.0,1071.5 L2970.0,1072.0 L2960.0,1072.5 L2950.0,1072.9 L2940.0,1073.4 L2930.0,1073.9 L2920.0,1074.4 L2910.0,1074.9 L2900.0,1075.3 L2890.0,1075.7 L2880.0,1076.0 L2870.0,1076.3 L2860.0,1076.5 L2850.0,1076.7 L2840.0,1076.9 L2830.0,1077.1 L2820.0,1077.2 L2810.0,1077.3 L2800.0,1077.4 L2790.0,1077.5 L2780.0,1077.6 L2770.0,1077.6 L2760.0,1077.7 L2750.0,1077.7 L2740.0,1077.7 L2730.0,1077.7 L2720.0,1077.7 L2710.0,1077.7 L2700.0,1077.7 L2690.0,1077.7 L2680.0,1077.7 L2670.0,1077.8 L2660.0,1077.8 L2650.0,1077.8 L2640.0,1077.8 L2630.0,1077.8 L2620.0,1077.8 L2610.0,1077.8 L2600.0,1077.8 L1500.0,1077.8 L1496.0,1077.8 L1486.0,1077.8 L1476.0,1077.8 L1466.0,1077.8 L1456.0,1077.8 L1446.0,1077.8 L1436.0,1077.8 L1426.0,1077.8 L1416.0,1077.8 L1406.0,1077.8 L1396.0,1077.8 L1386.0,1077.8 L1376.0,1077.8 L1366.0,1077.8 L1356.0,1077.8 L1346.0,1077.8 L1336.0,1077.8 L1326.0,1077.8 L1316.0,1077.8 L1306.0,1077.8 L1296.0,1077.8 L1286.0,1077.8 L1276.0,1077.8 L1266.0,1077.8 L1256.0,1077.8 L1246.0,1077.8 L1236.0,1077.8 L1226.0,1077.8 L1216.0,1077.8 L1206.0,1077.8 L1196.0,1077.8 L1186.0,1077.8 L1176.0,1077.8 L1166.0,1077.8 L1156.0,1077.7 L1146.0,1077.7 L1136.0,1077.7 L1126.0,1077.7 L1116.0,1077.7 L1106.0,1077.7 L1096.0,1077.7 L1086.0,1077.7 L1076.0,1077.6 L1066.0,1077.6 L1056.0,1077.5 L1046.0,1077.4 L1036.0,1077.3 L1026.0,1077.2 L1016.0,1077.1 L1006.0,1077.0 L996.0,1076.8 L986.0,1076.6 L976.0,1076.4 L966.0,1076.1 L956.0,1075.8 L946.0,1075.5 L936.0,1075.2 L926.0,1074.7 L916.0,1074.3 L906.0,1073.8 L896.0,1073.3 L886.0,1072.8 L876.0,1072.4 L866.0,1071.9 L856.0,1071.4 L846.0,1070.9 L836.0,1070.4 L826.0,1069.8 L816.0,1069.3 L806.0,1068.7 L796.0,1068.2 L786.0,1067.6 L776.0,1066.9 L766.0,1066.3 L756.0,1065.6 L746.0,1064.9 L736.0,1064.2 L726.0,1063.4 L716.0,1062.5 L706.0,1061.5 L696.0,1060.4 L686.0,1059.4 L676.0,1058.5 L666.0,1057.4 L656.0,1056.4 L646.0,1055.2 L636.0,1054.0 L626.0,1052.8 L616.0,1051.5 L606.0,1050.2 L596.0,1048.9 L586.0,1047.6 L576.0,1046.2 L566.0,1044.7 L556.0,1043.2 L546.0,1041.5 L536.0,1039.8 L526.0,1038.0 L516.0,1036.0 L506.0,1034.0 L496.0,1031.7 L486.0,1029.2 L476.0,1026.4 L466.0,1023.3 L456.0,1020.0 L446.0,1016.4 L436.0,1012.9 L426.0,1009.3 L416.0,1005.8 L406.0,1002.3 L396.0,998.8 L386.0,995.2 L376.0,991.7 L366.0,988.1 L356.0,984.6 L346.0,981.1 L336.0,977.6 L326.0,974.1 L316.0,970.7 L306.0,967.3 L296.0,964.1 L286.0,960.9 L276.0,957.8 L266.0,954.7 L256.0,951.7 L246.0,948.8 L236.0,945.9 L226.0,943.0 L216.0,940.1 L206.0,937.2 L196.0,934.5 L186.0,931.7 L176.0,929.0 L166.0,926.4 L156.0,923.8 L146.0,921.3 L136.0,918.9 L126.0,916.5 L116.0,914.2 L106.0,913.1Z" fill="#ff4805"/>
<path d="M106.0,913.6 L116.0,914.7 L126.0,917.0 L136.0,919.3 L146.0,921.7 L156.0,924.2 L166.0,926.8 L176.0,929.5 L186.0,932.2 L196.0,934.9 L206.0,937.7 L216.0,940.5 L226.0,943.4 L236.0,946.3 L246.0,949.2 L256.0,952.2 L266.0,955.2 L276.0,958.2 L286.0,961.3 L296.0,964.5 L306.0,967.8 L316.0,971.1 L326.0,974.5 L336.0,978.0 L346.0,981.5 L356.0,985.1 L366.0,988.6 L376.0,992.1 L386.0,995.7 L396.0,999.2 L406.0,1002.7 L416.0,1006.3 L426.0,1009.8 L436.0,1013.3 L446.0,1016.9 L456.0,1020.4 L466.0,1023.8 L476.0,1026.8 L486.0,1029.6 L496.0,1032.1 L506.0,1034.4 L516.0,1036.5 L526.0,1038.4 L536.0,1040.3 L546.0,1042.0 L556.0,1043.6 L566.0,1045.2 L576.0,1046.6 L586.0,1048.0 L596.0,1049.4 L606.0,1050.7 L616.0,1052.0 L626.0,1053.3 L636.0,1054.5 L646.0,1055.7 L656.0,1056.8 L666.0,1057.9 L676.0,1058.9 L686.0,1059.9 L696.0,1060.9 L706.0,1061.9 L716.0,1062.9 L726.0,1063.8 L736.0,1064.6 L746.0,1065.3 L756.0,1066.0 L766.0,1066.7 L776.0,1067.4 L786.0,1068.0 L796.0,1068.6 L806.0,1069.2 L816.0,1069.7 L826.0,1070.3 L836.0,1070.8 L846.0,1071.3 L856.0,1071.8 L866.0,1072.3 L876.0,1072.8 L886.0,1073.3 L896.0,1073.8 L906.0,1074.2 L916.0,1074.7 L926.0,1075.2 L936.0,1075.6 L946.0,1076.0 L956.0,1076.3 L966.0,1076.6 L976.0,1076.8 L986.0,1077.0 L996.0,1077.2 L1006.0,1077.4 L1016.0,1077.5 L1026.0,1077.7 L1036.0,1077.8 L1046.0,1077.9 L1056.0,1078.0 L1066.0,1078.0 L1076.0,1078.1 L1086.0,1078.1 L1096.0,1078.2 L1106.0,1078.2 L1116.0,1078.2 L1126.0,1078.2 L1136.0,1078.2 L1146.0,1078.2 L1156.0,1078.2 L1166.0,1078.2 L1176.0,1078.2 L1186.0,1078.2 L1196.0,1078.2 L1206.0,1078.2 L1216.0,1078.2 L1226.0,1078.2 L1236.0,1078.2 L1246.0,1078.2 L1256.0,1078.2 L1266.0,1078.2 L1276.0,1078.2 L1286.0,1078.2 L1296.0,1078.2 L1306.0,1078.2 L1316.0,1078.2 L1326.0,1078.2 L1336.0,1078.2 L1346.0,1078.2 L1356.0,1078.2 L1366.0,1078.2 L1376.0,1078.2 L1386.0,1078.2 L1396.0,1078.2 L1406.0,1078.2 L1416.0,1078.2 L1426.0,1078.2 L1436.0,1078.2 L1446.0,1078.2 L1456.0,1078.2 L1466.0,1078.2 L1476.0,1078.2 L1486.0,1078.2 L1496.0,1078.2 L1500.0,1078.2 L2600.0,1078.2 L2610.0,1078.2 L2620.0,1078.2 L2630.0,1078.2 L2640.0,1078.2 L2650.0,1078.2 L2660.0,1078.2 L2670.0,1078.2 L2680.0,1078.2 L2690.0,1078.2 L2700.0,1078.2 L2710.0,1078.2 L2720.0,1078.2 L2730.0,1078.2 L2740.0,1078.2 L2750.0,1078.1 L2760.0,1078.1 L2770.0,1078.1 L2780.0,1078.0 L2790.0,1078.0 L2800.0,1077.9 L2810.0,1077.8 L2820.0,1077.7 L2830.0,1077.5 L2840.0,1077.4 L2850.0,1077.2 L2860.0,1077.0 L2870.0,1076.7 L2880.0,1076.5 L2890.0,1076.1 L2900.0,1075.8 L2910.0,1075.4 L2920.0,1074.9 L2930.0,1074.4 L2940.0,1073.9 L2950.0,1073.4 L2960.0,1072.9 L2970.0,1072.4 L2980.0,1071.9 L2990.0,1071.4 L3000.0,1070.9 L3010.0,1070.4 L3020.0,1069.9 L3030.0,1069.4 L3040.0,1068.9 L3050.0,1068.3 L3060.0,1067.7 L3070.0,1067.0 L3080.0,1066.3 L3090.0,1065.5 L3100.0,1064.7 L3110.0,1063.9 L3120.0,1063.1 L3130.0,1062.2 L3140.0,1061.4 L3150.0,1060.5 L3160.0,1059.6 L3170.0,1058.6 L3180.0,1057.6 L3190.0,1056.6 L3200.0,1055.6 L3210.0,1054.5 L3220.0,1053.4 L3230.0,1052.2 L3240.0,1051.0 L3250.0,1049.7 L3260.0,1048.4 L3270.0,1047.1 L3280.0,1045.8 L3290.0,1044.3 L3300.0,1042.8 L3310.0,1041.1 L3320.0,1039.3 L3330.0,1037.3 L3340.0,1035.2 L3350.0,1032.9 L3360.0,1030.3 L3370.0,1027.6 L3380.0,1024.7 L3390.0,1021.5 L3400.0,1018.2 L3410.0,1014.7 L3420.0,1011.0 L3430.0,1007.2 L3440.0,1003.3 L3450.0,999.5 L3460.0,995.6 L3470.0,991.8 L3480.0,987.9 L3490.0,984.0 L3500.0,980.0 L3510.0,976.0 L3520.0,971.9 L3530.0,967.7 L3540.0,963.6 L3550.0,959.4 L3560.0,955.4 L3570.0,951.4 L3580.0,947.5 L3590.0,943.8 L3600.0,940.2 L3610.0,936.6 L3620.0,933.3 L3630.0,930.1 L3640.0,927.1 L3650.0,924.4 L3660.0,921.9 L3670.0,919.6 L3680.0,917.6 L3690.0,915.9 L3700.0,914.7 L3710.0,914.0 L3720.0,913.7 L3730.0,913.6 L3732.0,913.6 L3732.0,1242.5 L3730.0,1242.6 L3720.0,1242.6 L3710.0,1242.9 L3700.0,1243.6 L3690.0,1244.8 L3680.0,1246.5 L3670.0,1248.6 L3660.0,1250.8 L3650.0,1253.3 L3640.0,1256.1 L3630.0,1259.0 L3620.0,1262.2 L3610.0,1265.6 L3600.0,1269.1 L3590.0,1272.7 L3580.0,1276.5 L3570.0,1280.3 L3560.0,1284.3 L3550.0,1288.4 L3540.0,1292.5 L3530.0,1296.6 L3520.0,1300.8 L3510.0,1304.9 L3500.0,1308.9 L3490.0,1312.9 L3480.0,1316.8 L3470.0,1320.7 L3460.0,1324.5 L3450.0,1328.4 L3440.0,1332.2 L3430.0,1336.1 L3420.0,1339.8 L3410.0,1343.6 L3400.0,1347.1 L3390.0,1350.4 L3380.0,1353.5 L3370.0,1356.5 L3360.0,1359.2 L3350.0,1361.7 L3340.0,1364.1 L3330.0,1366.2 L3320.0,1368.2 L3310.0,1370.0 L3300.0,1371.6 L3290.0,1373.2 L3280.0,1374.6 L3270.0,1376.0 L3260.0,1377.3 L3250.0,1378.6 L3240.0,1379.9 L3230.0,1381.1 L3220.0,1382.3 L3210.0,1383.4 L3200.0,1384.5 L3190.0,1385.5 L3180.0,1386.5 L3170.0,1387.4 L3160.0,1388.4 L3150.0,1389.4 L3140.0,1390.2 L3130.0,1391.1 L3120.0,1391.9 L3110.0,1392.8 L3100.0,1393.6 L3090.0,1394.4 L3080.0,1395.2 L3070.0,1395.9 L3060.0,1396.6 L3050.0,1397.2 L3040.0,1397.7 L3030.0,1398.3 L3020.0,1398.8 L3010.0,1399.3 L3000.0,1399.8 L2990.0,1400.3 L2980.0,1400.8 L2970.0,1401.3 L2960.0,1401.8 L2950.0,1402.2 L2940.0,1402.7 L2930.0,1403.2 L2920.0,1403.7 L2910.0,1404.2 L2900.0,1404.6 L2890.0,1405.0 L2880.0,1405.3 L2870.0,1405.6 L2860.0,1405.8 L2850.0,1406.0 L2840.0,1406.2 L2830.0,1406.4 L2820.0,1406.5 L2810.0,1406.6 L2800.0,1406.7 L2790.0,1406.8 L2780.0,1406.9 L2770.0,1406.9 L2760.0,1407.0 L2750.0,1407.0 L2740.0,1407.0 L2730.0,1407.0 L2720.0,1407.0 L2710.0,1407.0 L2700.0,1407.0 L2690.0,1407.0 L2680.0,1407.0 L2670.0,1407.0 L2660.0,1407.0 L2650.0,1407.0 L2640.0,1407.0 L2630.0,1407.0 L2620.0,1407.0 L2610.0,1407.0 L2600.0,1407.0 L1500.0,1407.0 L1496.0,1407.0 L1486.0,1407.0 L1476.0,1407.0 L1466.0,1407.0 L1456.0,1407.0 L1446.0,1407.0 L1436.0,1407.0 L1426.0,1407.0 L1416.0,1407.0 L1406.0,1407.0 L1396.0,1407.0 L1386.0,1407.0 L1376.0,1407.0 L1366.0,1407.0 L1356.0,1407.0 L1346.0,1407.0 L1336.0,1407.0 L1326.0,1407.0 L1316.0,1407.0 L1306.0,1407.0 L1296.0,1407.0 L1286.0,1407.0 L1276.0,1407.0 L1266.0,1407.0 L1256.0,1407.0 L1246.0,1407.0 L1236.0,1407.0 L1226.0,1407.0 L1216.0,1407.0 L1206.0,1407.0 L1196.0,1407.0 L1186.0,1407.0 L1176.0,1407.0 L1166.0,1407.0 L1156.0,1407.0 L1146.0,1407.0 L1136.0,1407.0 L1126.0,1407.0 L1116.0,1407.0 L1106.0,1407.0 L1096.0,1407.0 L1086.0,1407.0 L1076.0,1406.9 L1066.0,1406.9 L1056.0,1406.8 L1046.0,1406.7 L1036.0,1406.6 L1026.0,1406.5 L1016.0,1406.4 L1006.0,1406.3 L996.0,1406.1 L986.0,1405.9 L976.0,1405.7 L966.0,1405.4 L956.0,1405.1 L946.0,1404.8 L936.0,1404.5 L926.0,1404.0 L916.0,1403.6 L906.0,1403.1 L896.0,1402.6 L886.0,1402.1 L876.0,1401.7 L866.0,1401.2 L856.0,1400.7 L846.0,1400.2 L836.0,1399.7 L826.0,1399.1 L816.0,1398.6 L806.0,1398.0 L796.0,1397.5 L786.0,1396.9 L776.0,1396.2 L766.0,1395.6 L756.0,1394.9 L746.0,1394.2 L736.0,1393.5 L726.0,1392.7 L716.0,1391.8 L706.0,1390.8 L696.0,1389.7 L686.0,1388.7 L676.0,1387.8 L666.0,1386.8 L656.0,1385.7 L646.0,1384.5 L636.0,1383.4 L626.0,1382.1 L616.0,1380.9 L606.0,1379.6 L596.0,1378.2 L586.0,1376.9 L576.0,1375.5 L566.0,1374.0 L556.0,1372.5 L546.0,1370.9 L536.0,1369.1 L526.0,1367.3 L516.0,1365.4 L506.0,1363.3 L496.0,1361.0 L486.0,1358.5 L476.0,1355.7 L466.0,1352.7 L456.0,1349.3 L446.0,1345.8 L436.0,1342.2 L426.0,1338.7 L416.0,1335.2 L406.0,1331.6 L396.0,1328.1 L386.0,1324.6 L376.0,1321.0 L366.0,1317.5 L356.0,1314.0 L346.0,1310.4 L336.0,1306.9 L326.0,1303.5 L316.0,1300.0 L306.0,1296.7 L296.0,1293.4 L286.0,1290.2 L276.0,1287.1 L266.0,1284.1 L256.0,1281.1 L246.0,1278.1 L236.0,1275.2 L226.0,1272.3 L216.0,1269.5 L206.0,1266.6 L196.0,1263.8 L186.0,1261.1 L176.0,1258.4 L166.0,1255.8 L156.0,1253.2 L146.0,1250.7 L136.0,1248.3 L126.0,1245.9 L116.0,1243.6 L106.0,1242.5Z" fill="#ff9b00"/>
<path d="M106.0,1243.0 L116.0,1244.1 L126.0,1246.4 L136.0,1248.7 L146.0,1251.1 L156.0,1253.6 L166.0,1256.2 L176.0,1258.8 L186.0,1261.6 L196.0,1264.3 L206.0,1267.1 L216.0,1269.9 L226.0,1272.8 L236.0,1275.7 L246.0,1278.6 L256.0,1281.6 L266.0,1284.6 L276.0,1287.6 L286.0,1290.7 L296.0,1293.9 L306.0,1297.1 L316.0,1300.5 L326.0,1303.9 L336.0,1307.4 L346.0,1310.9 L356.0,1314.4 L366.0,1318.0 L376.0,1321.5 L386.0,1325.0 L396.0,1328.6 L406.0,1332.1 L416.0,1335.6 L426.0,1339.1 L436.0,1342.7 L446.0,1346.2 L456.0,1349.8 L466.0,1353.1 L476.0,1356.2 L486.0,1358.9 L496.0,1361.5 L506.0,1363.7 L516.0,1365.8 L526.0,1367.7 L536.0,1369.6 L546.0,1371.3 L556.0,1372.9 L566.0,1374.5 L576.0,1375.9 L586.0,1377.3 L596.0,1378.7 L606.0,1380.0 L616.0,1381.3 L626.0,1382.6 L636.0,1383.8 L646.0,1385.0 L656.0,1386.1 L666.0,1387.2 L676.0,1388.2 L686.0,1389.2 L696.0,1390.2 L706.0,1391.2 L716.0,1392.3 L726.0,1393.1 L736.0,1393.9 L746.0,1394.6 L756.0,1395.3 L766.0,1396.0 L776.0,1396.7 L786.0,1397.3 L796.0,1397.9 L806.0,1398.5 L816.0,1399.0 L826.0,1399.6 L836.0,1400.1 L846.0,1400.6 L856.0,1401.1 L866.0,1401.6 L876.0,1402.1 L886.0,1402.6 L896.0,1403.1 L906.0,1403.6 L916.0,1404.0 L926.0,1404.5 L936.0,1404.9 L946.0,1405.3 L956.0,1405.6 L966.0,1405.9 L976.0,1406.1 L986.0,1406.3 L996.0,1406.5 L1006.0,1406.7 L1016.0,1406.8 L1026.0,1407.0 L1036.0,1407.1 L1046.0,1407.2 L1056.0,1407.3 L1066.0,1407.3 L1076.0,1407.4 L1086.0,1407.4 L1096.0,1407.5 L1106.0,1407.5 L1116.0,1407.5 L1126.0,1407.5 L1136.0,1407.5 L1146.0,1407.5 L1156.0,1407.5 L1166.0,1407.5 L1176.0,1407.5 L1186.0,1407.5 L1196.0,1407.5 L1206.0,1407.5 L1216.0,1407.5 L1226.0,1407.5 L1236.0,1407.5 L1246.0,1407.5 L1256.0,1407.5 L1266.0,1407.5 L1276.0,1407.5 L1286.0,1407.5 L1296.0,1407.5 L1306.0,1407.5 L1316.0,1407.5 L1326.0,1407.5 L1336.0,1407.5 L1346.0,1407.5 L1356.0,1407.5 L1366.0,1407.5 L1376.0,1407.5 L1386.0,1407.5 L1396.0,1407.5 L1406.0,1407.5 L1416.0,1407.5 L1426.0,1407.5 L1436.0,1407.5 L1446.0,1407.5 L1456.0,1407.5 L1466.0,1407.5 L1476.0,1407.5 L1486.0,1407.5 L1496.0,1407.5 L1500.0,1407.5 L2600.0,1407.5 L2610.0,1407.5 L2620.0,1407.5 L2630.0,1407.5 L2640.0,1407.5 L2650.0,1407.5 L2660.0,1407.5 L2670.0,1407.5 L2680.0,1407.5 L2690.0,1407.5 L2700.0,1407.5 L2710.0,1407.5 L2720.0,1407.5 L2730.0,1407.5 L2740.0,1407.5 L2750.0,1407.4 L2760.0,1407.4 L2770.0,1407.4 L2780.0,1407.3 L2790.0,1407.3 L2800.0,1407.2 L2810.0,1407.1 L2820.0,1407.0 L2830.0,1406.8 L2840.0,1406.7 L2850.0,1406.5 L2860.0,1406.3 L2870.0,1406.0 L2880.0,1405.8 L2890.0,1405.5 L2900.0,1405.1 L2910.0,1404.7 L2920.0,1404.2 L2930.0,1403.7 L2940.0,1403.2 L2950.0,1402.7 L2960.0,1402.2 L2970.0,1401.7 L2980.0,1401.2 L2990.0,1400.7 L3000.0,1400.2 L3010.0,1399.7 L3020.0,1399.2 L3030.0,1398.7 L3040.0,1398.2 L3050.0,1397.6 L3060.0,1397.0 L3070.0,1396.4 L3080.0,1395.6 L3090.0,1394.8 L3100.0,1394.0 L3110.0,1393.2 L3120.0,1392.4 L3130.0,1391.6 L3140.0,1390.7 L3150.0,1389.8 L3160.0,1388.9 L3170.0,1387.9 L3180.0,1386.9 L3190.0,1386.0 L3200.0,1384.9 L3210.0,1383.9 L3220.0,1382.7 L3230.0,1381.6 L3240.0,1380.3 L3250.0,1379.1 L3260.0,1377.8 L3270.0,1376.5 L3280.0,1375.1 L3290.0,1373.6 L3300.0,1372.1 L3310.0,1370.4 L3320.0,1368.6 L3330.0,1366.7 L3340.0,1364.5 L3350.0,1362.2 L3360.0,1359.6 L3370.0,1356.9 L3380.0,1354.0 L3390.0,1350.9 L3400.0,1347.6 L3410.0,1344.0 L3420.0,1340.3 L3430.0,1336.5 L3440.0,1332.7 L3450.0,1328.8 L3460.0,1325.0 L3470.0,1321.1 L3480.0,1317.2 L3490.0,1313.3 L3500.0,1309.4 L3510.0,1305.4 L3520.0,1301.3 L3530.0,1297.1 L3540.0,1292.9 L3550.0,1288.8 L3560.0,1284.8 L3570.0,1280.8 L3580.0,1276.9 L3590.0,1273.2 L3600.0,1269.5 L3610.0,1266.0 L3620.0,1262.6 L3630.0,1259.5 L3640.0,1256.5 L3650.0,1253.8 L3660.0,1251.3 L3670.0,1249.0 L3680.0,1247.0 L3690.0,1245.3 L3700.0,1244.1 L3710.0,1243.4 L3720.0,1243.1 L3730.0,1243.0 L3732.0,1243.0 L3732.0,1572.3 L3730.0,1572.4 L3720.0,1572.4 L3710.0,1572.7 L3700.0,1573.4 L3690.0,1574.6 L3680.0,1576.3 L3670.0,1578.3 L3660.0,1580.6 L3650.0,1583.1 L3640.0,1585.8 L3630.0,1588.8 L3620.0,1591.9 L3610.0,1595.3 L3600.0,1598.8 L3590.0,1602.4 L3580.0,1606.1 L3570.0,1610.0 L3560.0,1613.9 L3550.0,1618.0 L3540.0,1622.1 L3530.0,1626.2 L3520.0,1630.4 L3510.0,1634.4 L3500.0,1638.4 L3490.0,1642.4 L3480.0,1646.3 L3470.0,1650.1 L3460.0,1654.0 L3450.0,1657.8 L3440.0,1661.7 L3430.0,1665.5 L3420.0,1669.2 L3410.0,1672.9 L3400.0,1676.5 L3390.0,1679.8 L3380.0,1682.9 L3370.0,1685.8 L3360.0,1688.5 L3350.0,1691.0 L3340.0,1693.4 L3330.0,1695.5 L3320.0,1697.4 L3310.0,1699.2 L3300.0,1700.9 L3290.0,1702.4 L3280.0,1703.9 L3270.0,1705.2 L3260.0,1706.5 L3250.0,1707.8 L3240.0,1709.1 L3230.0,1710.3 L3220.0,1711.5 L3210.0,1712.6 L3200.0,1713.7 L3190.0,1714.7 L3180.0,1715.7 L3170.0,1716.6 L3160.0,1717.6 L3150.0,1718.5 L3140.0,1719.4 L3130.0,1720.3 L3120.0,1721.1 L3110.0,1721.9 L3100.0,1722.7 L3090.0,1723.5 L3080.0,1724.3 L3070.0,1725.1 L3060.0,1725.7 L3050.0,1726.3 L3040.0,1726.9 L3030.0,1727.4 L3020.0,1727.9 L3010.0,1728.4 L3000.0,1728.9 L2990.0,1729.4 L2980.0,1729.9 L2970.0,1730.4 L2960.0,1730.9 L2950.0,1731.4 L2940.0,1731.8 L2930.0,1732.3 L2920.0,1732.8 L2910.0,1733.3 L2900.0,1733.7 L2890.0,1734.1 L2880.0,1734.4 L2870.0,1734.7 L2860.0,1734.9 L2850.0,1735.1 L2840.0,1735.3 L2830.0,1735.5 L2820.0,1735.6 L2810.0,1735.7 L2800.0,1735.8 L2790.0,1735.9 L2780.0,1736.0 L2770.0,1736.0 L2760.0,1736.1 L2750.0,1736.1 L2740.0,1736.1 L2730.0,1736.1 L2720.0,1736.1 L2710.0,1736.1 L2700.0,1736.1 L2690.0,1736.1 L2680.0,1736.1 L2670.0,1736.1 L2660.0,1736.1 L2650.0,1736.1 L2640.0,1736.1 L2630.0,1736.1 L2620.0,1736.1 L2610.0,1736.1 L2600.0,1736.1 L1500.0,1736.1 L1496.0,1736.1 L1486.0,1736.1 L1476.0,1736.1 L1466.0,1736.1 L1456.0,1736.1 L1446.0,1736.1 L1436.0,1736.1 L1426.0,1736.1 L1416.0,1736.1 L1406.0,1736.1 L1396.0,1736.1 L1386.0,1736.1 L1376.0,1736.1 L1366.0,1736.1 L1356.0,1736.1 L1346.0,1736.1 L1336.0,1736.1 L1326.0,1736.1 L1316.0,1736.1 L1306.0,1736.1 L1296.0,1736.1 L1286.0,1736.1 L1276.0,1736.1 L1266.0,1736.1 L1256.0,1736.1 L1246.0,1736.1 L1236.0,1736.1 L1226.0,1736.1 L1216.0,1736.1 L1206.0,1736.1 L1196.0,1736.1 L1186.0,1736.1 L1176.0,1736.1 L1166.0,1736.1 L1156.0,1736.1 L1146.0,1736.1 L1136.0,1736.1 L1126.0,1736.1 L1116.0,1736.1 L1106.0,1736.1 L1096.0,1736.1 L1086.0,1736.1 L1076.0,1736.0 L1066.0,1736.0 L1056.0,1735.9 L1046.0,1735.8 L1036.0,1735.7 L1026.0,1735.6 L1016.0,1735.5 L1006.0,1735.4 L996.0,1735.2 L986.0,1735.0 L976.0,1734.8 L966.0,1734.5 L956.0,1734.3 L946.0,1733.9 L936.0,1733.6 L926.0,1733.2 L916.0,1732.7 L906.0,1732.2 L896.0,1731.7 L886.0,1731.3 L876.0,1730.8 L866.0,1730.3 L856.0,1729.8 L846.0,1729.3 L836.0,1728.8 L826.0,1728.3 L816.0,1727.7 L806.0,1727.2 L796.0,1726.6 L786.0,1726.0 L776.0,1725.4 L766.0,1724.7 L756.0,1724.0 L746.0,1723.4 L736.0,1722.6 L726.0,1721.9 L716.0,1721.0 L706.0,1720.0 L696.0,1718.9 L686.0,1717.9 L676.0,1717.0 L666.0,1715.9 L656.0,1714.9 L646.0,1713.7 L636.0,1712.6 L626.0,1711.3 L616.0,1710.1 L606.0,1708.8 L596.0,1707.5 L586.0,1706.1 L576.0,1704.7 L566.0,1703.3 L556.0,1701.7 L546.0,1700.1 L536.0,1698.4 L526.0,1696.6 L516.0,1694.6 L506.0,1692.6 L496.0,1690.3 L486.0,1687.8 L476.0,1685.0 L466.0,1682.0 L456.0,1678.6 L446.0,1675.1 L436.0,1671.6 L426.0,1668.1 L416.0,1664.6 L406.0,1661.1 L396.0,1657.5 L386.0,1654.0 L376.0,1650.5 L366.0,1647.0 L356.0,1643.5 L346.0,1639.9 L336.0,1636.4 L326.0,1633.0 L316.0,1629.6 L306.0,1626.3 L296.0,1623.0 L286.0,1619.8 L276.0,1616.8 L266.0,1613.7 L256.0,1610.7 L246.0,1607.8 L236.0,1604.9 L226.0,1602.0 L216.0,1599.2 L206.0,1596.3 L196.0,1593.6 L186.0,1590.8 L176.0,1588.1 L166.0,1585.5 L156.0,1582.9 L146.0,1580.4 L136.0,1578.0 L126.0,1575.7 L116.0,1573.4 L106.0,1572.3Z" fill="#fff405"/>
<path d="M106.0,1572.8 L116.0,1573.9 L126.0,1576.1 L136.0,1578.5 L146.0,1580.9 L156.0,1583.4 L166.0,1585.9 L176.0,1588.6 L186.0,1591.3 L196.0,1594.0 L206.0,1596.8 L216.0,1599.6 L226.0,1602.5 L236.0,1605.3 L246.0,1608.2 L256.0,1611.2 L266.0,1614.2 L276.0,1617.2 L286.0,1620.3 L296.0,1623.5 L306.0,1626.7 L316.0,1630.1 L326.0,1633.5 L336.0,1636.9 L346.0,1640.4 L356.0,1643.9 L366.0,1647.4 L376.0,1651.0 L386.0,1654.5 L396.0,1658.0 L406.0,1661.5 L416.0,1665.0 L426.0,1668.5 L436.0,1672.0 L446.0,1675.6 L456.0,1679.1 L466.0,1682.4 L476.0,1685.5 L486.0,1688.3 L496.0,1690.8 L506.0,1693.0 L516.0,1695.1 L526.0,1697.0 L536.0,1698.8 L546.0,1700.6 L556.0,1702.2 L566.0,1703.7 L576.0,1705.2 L586.0,1706.6 L596.0,1707.9 L606.0,1709.2 L616.0,1710.5 L626.0,1711.8 L636.0,1713.0 L646.0,1714.2 L656.0,1715.3 L666.0,1716.4 L676.0,1717.4 L686.0,1718.4 L696.0,1719.4 L706.0,1720.4 L716.0,1721.4 L726.0,1722.3 L736.0,1723.1 L746.0,1723.8 L756.0,1724.5 L766.0,1725.2 L776.0,1725.8 L786.0,1726.5 L796.0,1727.1 L806.0,1727.6 L816.0,1728.2 L826.0,1728.7 L836.0,1729.2 L846.0,1729.8 L856.0,1730.3 L866.0,1730.8 L876.0,1731.2 L886.0,1731.7 L896.0,1732.2 L906.0,1732.7 L916.0,1733.1 L926.0,1733.6 L936.0,1734.0 L946.0,1734.4 L956.0,1734.7 L966.0,1735.0 L976.0,1735.2 L986.0,1735.4 L996.0,1735.6 L1006.0,1735.8 L1016.0,1735.9 L1026.0,1736.1 L1036.0,1736.2 L1046.0,1736.3 L1056.0,1736.4 L1066.0,1736.4 L1076.0,1736.5 L1086.0,1736.5 L1096.0,1736.6 L1106.0,1736.6 L1116.0,1736.6 L1126.0,1736.6 L1136.0,1736.6 L1146.0,1736.6 L1156.0,1736.6 L1166.0,1736.6 L1176.0,1736.6 L1186.0,1736.6 L1196.0,1736.6 L1206.0,1736.6 L1216.0,1736.6 L1226.0,1736.6 L1236.0,1736.6 L1246.0,1736.6 L1256.0,1736.6 L1266.0,1736.6 L1276.0,1736.6 L1286.0,1736.6 L1296.0,1736.6 L1306.0,1736.6 L1316.0,1736.6 L1326.0,1736.6 L1336.0,1736.6 L1346.0,1736.6 L1356.0,1736.6 L1366.0,1736.6 L1376.0,1736.6 L1386.0,1736.6 L1396.0,1736.6 L1406.0,1736.6 L1416.0,1736.6 L1426.0,1736.6 L1436.0,1736.6 L1446.0,1736.6 L1456.0,1736.6 L1466.0,1736.6 L1476.0,1736.6 L1486.0,1736.6 L1496.0,1736.6 L1500.0,1736.6 L2600.0,1736.6 L2610.0,1736.6 L2620.0,1736.6 L2630.0,1736.6 L2640.0,1736.6 L2650.0,1736.6 L2660.0,1736.6 L2670.0,1736.6 L2680.0,1736.6 L2690.0,1736.6 L2700.0,1736.6 L2710.0,1736.6 L2720.0,1736.6 L2730.0,1736.6 L2740.0,1736.6 L2750.0,1736.5 L2760.0,1736.5 L2770.0,1736.5 L2780.0,1736.4 L2790.0,1736.4 L2800.0,1736.3 L2810.0,1736.2 L2820.0,1736.1 L2830.0,1735.9 L2840.0,1735.8 L2850.0,1735.6 L2860.0,1735.4 L2870.0,1735.1 L2880.0,1734.9 L2890.0,1734.6 L2900.0,1734.2 L2910.0,1733.8 L2920.0,1733.3 L2930.0,1732.8 L2940.0,1732.3 L2950.0,1731.8 L2960.0,1731.3 L2970.0,1730.8 L2980.0,1730.3 L2990.0,1729.8 L3000.0,1729.3 L3010.0,1728.8 L3020.0,1728.4 L3030.0,1727.9 L3040.0,1727.3 L3050.0,1726.8 L3060.0,1726.2 L3070.0,1725.5 L3080.0,1724.8 L3090.0,1724.0 L3100.0,1723.2 L3110.0,1722.4 L3120.0,1721.6 L3130.0,1720.7 L3140.0,1719.9 L3150.0,1719.0 L3160.0,1718.0 L3170.0,1717.1 L3180.0,1716.1 L3190.0,1715.1 L3200.0,1714.1 L3210.0,1713.1 L3220.0,1711.9 L3230.0,1710.8 L3240.0,1709.5 L3250.0,1708.3 L3260.0,1707.0 L3270.0,1705.7 L3280.0,1704.3 L3290.0,1702.9 L3300.0,1701.3 L3310.0,1699.7 L3320.0,1697.9 L3330.0,1695.9 L3340.0,1693.8 L3350.0,1691.5 L3360.0,1688.9 L3370.0,1686.2 L3380.0,1683.3 L3390.0,1680.2 L3400.0,1676.9 L3410.0,1673.4 L3420.0,1669.7 L3430.0,1665.9 L3440.0,1662.1 L3450.0,1658.3 L3460.0,1654.4 L3470.0,1650.6 L3480.0,1646.7 L3490.0,1642.8 L3500.0,1638.9 L3510.0,1634.9 L3520.0,1630.8 L3530.0,1626.7 L3540.0,1622.5 L3550.0,1618.4 L3560.0,1614.4 L3570.0,1610.4 L3580.0,1606.6 L3590.0,1602.9 L3600.0,1599.2 L3610.0,1595.7 L3620.0,1592.4 L3630.0,1589.2 L3640.0,1586.3 L3650.0,1583.5 L3660.0,1581.0 L3670.0,1578.8 L3680.0,1576.8 L3690.0,1575.1 L3700.0,1573.8 L3710.0,1573.2 L3720.0,1572.9 L3730.0,1572.8 L3732.0,1572.8 L3732.0,1902.6 L3730.0,1902.6 L3720.0,1902.7 L3710.0,1903.0 L3700.0,1903.7 L3690.0,1904.9 L3680.0,1906.6 L3670.0,1908.6 L3660.0,1910.9 L3650.0,1913.4 L3640.0,1916.1 L3630.0,1919.1 L3620.0,1922.3 L3610.0,1925.6 L3600.0,1929.2 L3590.0,1932.8 L3580.0,1936.5 L3570.0,1940.4 L3560.0,1944.4 L3550.0,1948.4 L3540.0,1952.6 L3530.0,1956.7 L3520.0,1960.9 L3510.0,1965.0 L3500.0,1969.0 L3490.0,1973.0 L3480.0,1976.9 L3470.0,1980.8 L3460.0,1984.6 L3450.0,1988.5 L3440.0,1992.3 L3430.0,1996.2 L3420.0,2000.0 L3410.0,2003.7 L3400.0,2007.2 L3390.0,2010.5 L3380.0,2013.7 L3370.0,2016.6 L3360.0,2019.3 L3350.0,2021.9 L3340.0,2024.2 L3330.0,2026.3 L3320.0,2028.3 L3310.0,2030.1 L3300.0,2031.8 L3290.0,2033.3 L3280.0,2034.8 L3270.0,2036.1 L3260.0,2037.4 L3250.0,2038.7 L3240.0,2040.0 L3230.0,2041.2 L3220.0,2042.4 L3210.0,2043.5 L3200.0,2044.6 L3190.0,2045.6 L3180.0,2046.6 L3170.0,2047.6 L3160.0,2048.6 L3150.0,2049.5 L3140.0,2050.4 L3130.0,2051.2 L3120.0,2052.1 L3110.0,2052.9 L3100.0,2053.7 L3090.0,2054.5 L3080.0,2055.3 L3070.0,2056.0 L3060.0,2056.7 L3050.0,2057.3 L3040.0,2057.9 L3030.0,2058.4 L3020.0,2058.9 L3010.0,2059.4 L3000.0,2059.9 L2990.0,2060.4 L2980.0,2060.9 L2970.0,2061.4 L2960.0,2061.9 L2950.0,2062.4 L2940.0,2062.9 L2930.0,2063.4 L2920.0,2063.9 L2910.0,2064.4 L2900.0,2064.8 L2890.0,2065.1 L2880.0,2065.5 L2870.0,2065.7 L2860.0,2066.0 L2850.0,2066.2 L2840.0,2066.4 L2830.0,2066.5 L2820.0,2066.7 L2810.0,2066.8 L2800.0,2066.9 L2790.0,2067.0 L2780.0,2067.0 L2770.0,2067.1 L2760.0,2067.1 L2750.0,2067.1 L2740.0,2067.2 L2730.0,2067.2 L2720.0,2067.2 L2710.0,2067.2 L2700.0,2067.2 L2690.0,2067.2 L2680.0,2067.2 L2670.0,2067.2 L2660.0,2067.2 L2650.0,2067.2 L2640.0,2067.2 L2630.0,2067.2 L2620.0,2067.2 L2610.0,2067.2 L2600.0,2067.2 L1500.0,2067.2 L1496.0,2067.2 L1486.0,2067.2 L1476.0,2067.2 L1466.0,2067.2 L1456.0,2067.2 L1446.0,2067.2 L1436.0,2067.2 L1426.0,2067.2 L1416.0,2067.2 L1406.0,2067.2 L1396.0,2067.2 L1386.0,2067.2 L1376.0,2067.2 L1366.0,2067.2 L1356.0,2067.2 L1346.0,2067.2 L1336.0,2067.2 L1326.0,2067.2 L1316.0,2067.2 L1306.0,2067.2 L1296.0,2067.2 L1286.0,2067.2 L1276.0,2067.2 L1266.0,2067.2 L1256.0,2067.2 L1246.0,2067.2 L1236.0,2067.2 L1226.0,2067.2 L1216.0,2067.2 L1206.0,2067.2 L1196.0,2067.2 L1186.0,2067.2 L1176.0,2067.2 L1166.0,2067.2 L1156.0,2067.2 L1146.0,2067.2 L1136.0,2067.2 L1126.0,2067.2 L1116.0,2067.2 L1106.0,2067.2 L1096.0,2067.2 L1086.0,2067.1 L1076.0,2067.1 L1066.0,2067.0 L1056.0,2067.0 L1046.0,2066.9 L1036.0,2066.8 L1026.0,2066.7 L1016.0,2066.5 L1006.0,2066.4 L996.0,2066.2 L986.0,2066.0 L976.0,2065.8 L966.0,2065.6 L956.0,2065.3 L946.0,2065.0 L936.0,2064.6 L926.0,2064.2 L916.0,2063.7 L906.0,2063.2 L896.0,2062.8 L886.0,2062.3 L876.0,2061.8 L866.0,2061.3 L856.0,2060.8 L846.0,2060.3 L836.0,2059.8 L826.0,2059.3 L816.0,2058.7 L806.0,2058.2 L796.0,2057.6 L786.0,2057.0 L776.0,2056.4 L766.0,2055.7 L756.0,2055.0 L746.0,2054.3 L736.0,2053.6 L726.0,2052.8 L716.0,2051.9 L706.0,2050.9 L696.0,2049.9 L686.0,2048.9 L676.0,2047.9 L666.0,2046.9 L656.0,2045.8 L646.0,2044.7 L636.0,2043.5 L626.0,2042.3 L616.0,2041.0 L606.0,2039.7 L596.0,2038.4 L586.0,2037.0 L576.0,2035.6 L566.0,2034.2 L556.0,2032.6 L546.0,2031.0 L536.0,2029.3 L526.0,2027.4 L516.0,2025.5 L506.0,2023.4 L496.0,2021.1 L486.0,2018.6 L476.0,2015.8 L466.0,2012.8 L456.0,2009.4 L446.0,2005.9 L436.0,2002.3 L426.0,1998.8 L416.0,1995.3 L406.0,1991.7 L396.0,1988.2 L386.0,1984.7 L376.0,1981.1 L366.0,1977.6 L356.0,1974.1 L346.0,1970.5 L336.0,1967.0 L326.0,1963.5 L316.0,1960.1 L306.0,1956.8 L296.0,1953.5 L286.0,1950.3 L276.0,1947.2 L266.0,1944.2 L256.0,1941.2 L246.0,1938.2 L236.0,1935.3 L226.0,1932.4 L216.0,1929.5 L206.0,1926.7 L196.0,1923.9 L186.0,1921.2 L176.0,1918.5 L166.0,1915.8 L156.0,1913.2 L146.0,1910.7 L136.0,1908.3 L126.0,1906.0 L116.0,1903.7 L106.0,1902.6Z" fill="#80c426"/>
</g>
<path d="M1273.4,414 l28.4,24.3 v14.5 l-22.65,-19.7 V583.6 h-11.5 V433.1 l-22.65,19.7 v-14.5 Z" fill="#fff"/>
<path d="M1571.5,414 l28.4,24.3 v14.5 l-22.65,-19.7 V749 h-11.5 V433.1 l-22.65,19.7 v-14.5 Z" fill="#fff"/>
<path d="M1858.6,414.2 l28.4,24.3 v14.5 l-22.65,-19.7 V1079.7 h-11.5 V433.3 l-22.65,19.7 v-14.5 Z" fill="#fff"/>
<path d="M2127.55,419.1 l28.4,24.3 v14.5 l-22.65,-19.7 V1410.9 h-11.5 V438.2 l-22.65,19.7 v-14.5 Z" fill="#fff"/>
<path d="M2397.6,414.2 l28.4,24.3 v14.5 l-22.65,-19.7 V1736.5 h-11.5 V433.3 l-22.65,19.7 v-14.5 Z" fill="#fff"/>
<path d="M2673.4,417.9 l28.4,24.3 v14.5 l-22.65,-19.7 V2069.7 h-11.5 V437.0 l-22.65,19.7 v-14.5 Z" fill="#fff"/>
<g font-family="'DejaVu Sans','Liberation Sans',sans-serif" font-weight="bold" font-style="oblique" font-size="103.4" fill="#fff" text-anchor="end">
<text transform="translate(1239.4 574.1) scale(.976 1)">5M</text>
<text transform="translate(1541.5 739.1) scale(.976 1)">10M</text>
<text transform="translate(1828.3 1073.7) scale(.976 1)">20M</text>
<text transform="translate(2097.1 1408.4) scale(.976 1)">30M</text>
<text transform="translate(2367.1 1734.3) scale(.976 1)">40M</text>
<text transform="translate(2643.3 2066.9) scale(.976 1)">50M</text>
</g>
<defs><linearGradient id="cb" x1="0" x2="1" y1="0" y2="0">
<stop offset="0" stop-color="#7bc02a"/>
<stop offset="0.03" stop-color="#82c428"/>
<stop offset="0.09" stop-color="#b4dc1a"/>
<stop offset="0.135" stop-color="#e8f60a"/>
<stop offset="0.16" stop-color="#fdff02"/>
<stop offset="0.185" stop-color="#fffa00"/>
<stop offset="0.24" stop-color="#ffe004"/>
<stop offset="0.3" stop-color="#ffc808"/>
<stop offset="0.42" stop-color="#ff9a08"/>
<stop offset="0.55" stop-color="#ff5a08"/>
<stop offset="0.68" stop-color="#ff2408"/>
<stop offset="0.78" stop-color="#e80000"/>
<stop offset="0.86" stop-color="#b80004"/>
<stop offset="0.93" stop-color="#8b0004"/>
<stop offset="1" stop-color="#8b0004"/>
</linearGradient></defs>
<rect x="2199" y="191.4" width="1561" height="88" fill="url(#cb)"/>
<g font-family="'Liberation Sans',sans-serif" font-size="75.4" fill="#000" stroke="#000" stroke-width="2.7" stroke-linejoin="round" text-anchor="middle" letter-spacing="10">
<text x="2288.6" y="175.2">55</text>
<text x="2560.7" y="175.2">63</text>
<text x="2834.5" y="175.2">70</text>
<text x="3109.5" y="175.2">76</text>
<text x="3381" y="175.2">83</text>
<text x="3679" y="175.2">90</text>
</g>
<text x="2058.3" y="266.6" font-family="'Liberation Sans',sans-serif" font-weight="bold" font-style="italic" font-size="81.5" fill="#000" text-anchor="middle" textLength="148.5" lengthAdjust="spacingAndGlyphs" stroke="#000" stroke-width="1">dBA</text>
</svg>
</body></html>
